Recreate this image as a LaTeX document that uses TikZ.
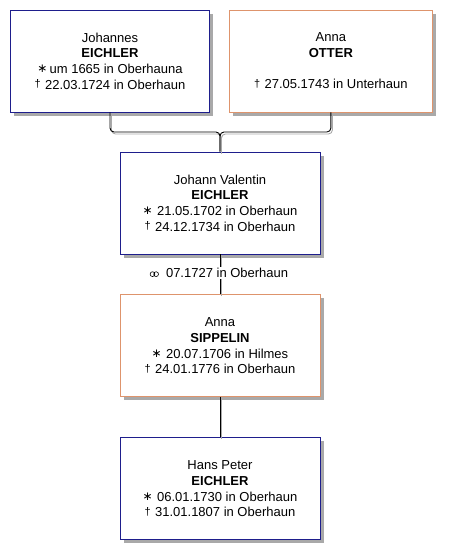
\documentclass[tikz,border=0pt]{standalone}
\usepackage{fontspec}
\setmainfont{Liberation Sans}
\newfontfamily\symfont{DejaVu Sans}
\usepackage{tikz}
\usetikzlibrary{positioning,shadows}
\definecolor{mboxc}{HTML}{1E1E8C}
\definecolor{fboxc}{HTML}{DE946C}
\definecolor{shadc}{HTML}{A9A9A9}
\newcommand{\born}{{\symfont\fontsize{12}{12}\selectfont\raisebox{1pt}{∗}}\,}
\newcommand{\died}{{\fontsize{11}{11}\selectfont\raisebox{1.5pt}{†}}\,\,}
\newcommand{\marr}{\tikz[baseline=-1pt,line width=0.6pt]{\draw (0,2.5pt) circle (2.4pt) (3.6pt,2.5pt) circle (2.4pt);}\ \ }

\begin{document}
\begin{tikzpicture}[x=1pt,y=-1pt,
  p/.style={draw,line width=0.9pt,fill=white,align=center,minimum height=102pt,inner sep=0pt,
    font=\fontsize{13}{15.7}\selectfont,
    drop shadow={shadow xshift=3.5pt,shadow yshift=-3.5pt,fill=shadc,opacity=1}},
  m/.style={p,draw=mboxc,minimum width=200pt},
  f/.style={p,draw=fboxc,minimum width=200pt},
  l/.style={line width=0.9pt,rounded corners=4pt},
  ls/.style={l,draw=shadc,transform canvas={shift={(1.5pt,-2pt)}}},
  lab/.style={fill=white,inner sep=1pt,font=\fontsize{13}{15.7}\selectfont}]
\useasboundingbox (0,0) rectangle (451,558);
\node[m,minimum width=199pt] (fa) at (110,61) {Johannes\\\textbf{EICHLER}\\\born um 1665 in Oberhauna\\\died 22.03.1724 in Oberhaun};
\node[f,minimum width=203pt,right=19pt of fa] (mo) {Anna\\\textbf{OTTER}\\~\\\died 27.05.1743 in Unterhaun};
\node[m] (jv) at (220,203) {Johann Valentin\\\textbf{EICHLER}\\\born\,21.05.1702 in Oberhaun\\\died 24.12.1734 in Oberhaun};
\node[f,below=40pt of jv] (sp) {Anna\\\textbf{SIPPELIN}\\\born\,20.07.1706 in Hilmes\\\died 24.01.1776 in Oberhaun};
\node[m,below=40pt of sp] (hp) {Hans Peter\\\textbf{EICHLER}\\\born\,06.01.1730 in Oberhaun\\\died 31.01.1807 in Oberhaun};
\coordinate (fam) at (220,132);
% links, shadow first
\foreach \s in {ls,l} {
  \draw[\s] (fa.south) -- (fa.south |- fam) -- (fam) -- (jv.north);
  \draw[\s] (mo.south) -- (mo.south |- fam) -- (fam) -- (jv.north);
  \draw[\s] (jv.south) -- (sp.north);
  \draw[\s] (sp.south) -- (hp.north);
}
\node[lab] (mar) at (219,273) {\marr 07.1727 in Oberhaun};
\end{tikzpicture}
\end{document}
